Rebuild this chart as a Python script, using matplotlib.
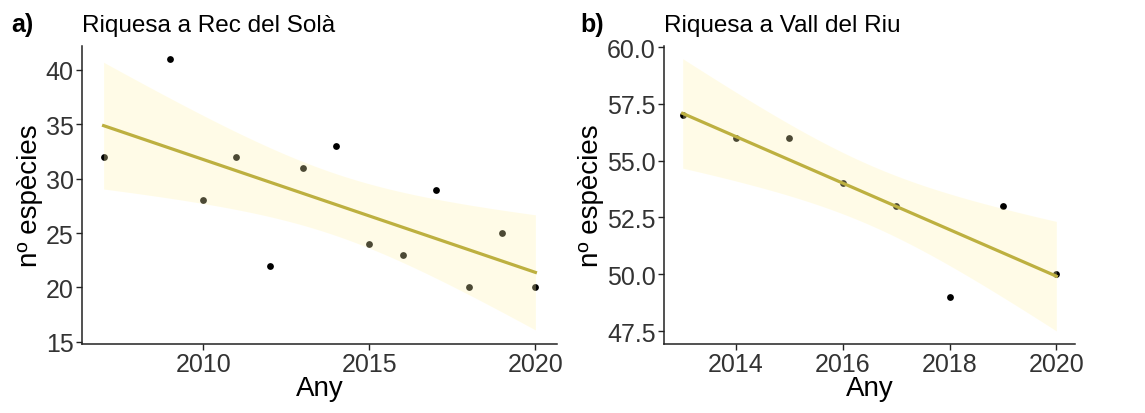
import numpy as np
import matplotlib
matplotlib.use("Agg")
import matplotlib.pyplot as plt

plt.rcParams['font.family'] = ['Liberation Sans', 'DejaVu Sans']

# dades llegides del gràfic
anys_a = [2007, 2009, 2010, 2011, 2012, 2013, 2014, 2015, 2016, 2017, 2018, 2019, 2020]
riquesa_a = [32, 41, 28, 32, 22, 31, 33, 24, 23, 29, 20, 25, 20]
anys_b = [2013, 2014, 2015, 2016, 2017, 2018, 2019, 2020]
riquesa_b = [57, 56, 56, 54, 53, 49, 53, 50]

# t de Student al 97.5% per als graus de llibertat (n-2)
t_crit = {11: 2.201, 6: 2.447}


def ajust_lineal(x, y, n_punts=80):
    x = np.asarray(x, float)
    y = np.asarray(y, float)
    n = len(x)
    b, a = np.polyfit(x, y, 1)
    res = y - (a + b * x)
    s = np.sqrt(np.sum(res ** 2) / (n - 2))
    sxx = np.sum((x - x.mean()) ** 2)
    xs = np.linspace(x.min(), x.max(), n_punts)
    ys = a + b * xs
    se = s * np.sqrt(1 / n + (xs - x.mean()) ** 2 / sxx)
    t = t_crit[n - 2]
    return xs, ys, ys - t * se, ys + t * se


def panell(ax, x, y, titol, xlim, ylim, yticks, xticks, fmt):
    ax.scatter(x, y, s=24, color='black', zorder=1, linewidths=0)
    xs, ys, lo, hi = ajust_lineal(x, y)
    ax.fill_between(xs, lo, hi, color='#FFF5B0', alpha=0.3, linewidth=0, zorder=2)
    ax.plot(xs, ys, color='#BDB040', lw=2.3, zorder=3)
    ax.set_xlim(*xlim)
    ax.set_ylim(*ylim)
    ax.set_xticks(xticks)
    ax.set_yticks(yticks)
    ax.set_yticklabels([fmt.format(v) for v in yticks])
    for s in ['top', 'right']:
        ax.spines[s].set_visible(False)
    for s in ['left', 'bottom']:
        ax.spines[s].set_linewidth(1.1)
        ax.spines[s].set_color('#222222')
    ax.tick_params(axis='both', labelsize=18, colors='#333333', length=4, width=1.0, pad=2)
    ax.tick_params(axis='both', color='#222222')
    ax.set_xlabel('Any', fontsize=20, labelpad=-1)
    ax.set_ylabel('nº espècies', fontsize=20, labelpad=2)
    ax.set_title(titol, fontsize=17.5, loc='left', pad=11)


fig = plt.figure(figsize=(11.45, 4.14), dpi=100)
ax1 = fig.add_axes([82 / 1145, 1 - 345 / 414, (557 - 82) / 1145, (345 - 47) / 414])
ax2 = fig.add_axes([664 / 1145, 1 - 345 / 414, (1075 - 664) / 1145, (345 - 47) / 414])

panell(ax1, anys_a, riquesa_a, 'Riquesa a Rec del Solà',
       (2006.35, 2020.65), (14.8, 42.2), [15, 20, 25, 30, 35, 40], [2010, 2015, 2020], '{:.0f}')
panell(ax2, anys_b, riquesa_b, 'Riquesa a Vall del Riu',
       (2012.65, 2020.35), (46.93, 60.05), [47.5, 50, 52.5, 55, 57.5, 60], [2014, 2016, 2018, 2020], '{:.1f}')

fig.text(11 / 1145, 1 - 32 / 414, 'a)', fontsize=18, fontweight='bold', va='baseline')
fig.text(580 / 1145, 1 - 32 / 414, 'b)', fontsize=18, fontweight='bold', va='baseline')

fig.savefig('out.png', dpi=100)
